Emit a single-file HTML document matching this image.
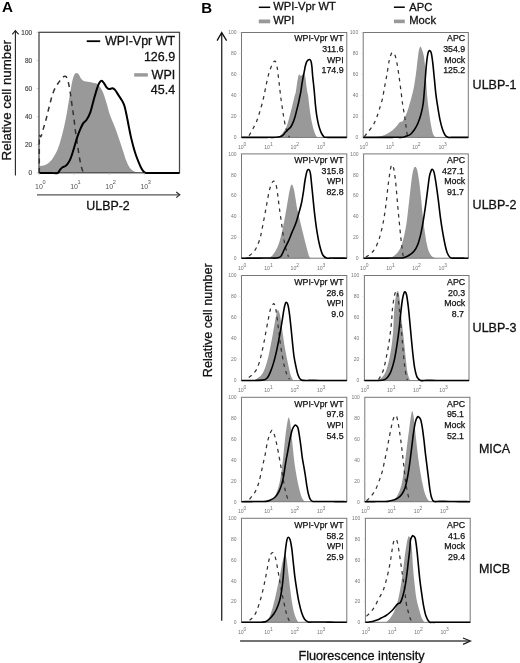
<!DOCTYPE html><html><head><meta charset="utf-8"><style>html,body{margin:0;padding:0;background:#fff;}svg{display:block;}text{font-family:"Liberation Sans", Arial, Helvetica, sans-serif;}</style></head><body>
<svg width="520" height="663" viewBox="0 0 520 663">
<rect width="520" height="663" fill="#fff"/>
<text x="1.90" y="12.40" font-size="15.20" text-anchor="start" font-weight="bold" fill="#000">A</text>
<line x1="15.4" y1="31" x2="15.4" y2="175.5" stroke="#222" stroke-width="1.1"/>
<polyline points="12.3,34.4 15.4,30.6 18.6,34.4" fill="none" stroke="#222" stroke-width="1.1"/>
<text x="0" y="0" font-size="13" fill="#111" stroke="#111" stroke-width="0.3" text-anchor="middle" textLength="120.5" lengthAdjust="spacingAndGlyphs" transform="translate(10.8,100.2) rotate(-90)">Relative cell number</text>
<text x="32.00" y="175.00" font-size="6.40" text-anchor="end" font-weight="normal" fill="#444" stroke="#444" stroke-width="0.15">0</text>
<line x1="36.5" y1="172.80" x2="39" y2="172.80" stroke="#bbb" stroke-width="0.6"/>
<text x="32.00" y="146.90" font-size="6.40" text-anchor="end" font-weight="normal" fill="#444" stroke="#444" stroke-width="0.15">20</text>
<line x1="36.5" y1="144.70" x2="39" y2="144.70" stroke="#bbb" stroke-width="0.6"/>
<text x="32.00" y="118.80" font-size="6.40" text-anchor="end" font-weight="normal" fill="#444" stroke="#444" stroke-width="0.15">40</text>
<line x1="36.5" y1="116.60" x2="39" y2="116.60" stroke="#bbb" stroke-width="0.6"/>
<text x="32.00" y="90.70" font-size="6.40" text-anchor="end" font-weight="normal" fill="#444" stroke="#444" stroke-width="0.15">60</text>
<line x1="36.5" y1="88.50" x2="39" y2="88.50" stroke="#bbb" stroke-width="0.6"/>
<text x="32.00" y="62.60" font-size="6.40" text-anchor="end" font-weight="normal" fill="#444" stroke="#444" stroke-width="0.15">80</text>
<line x1="36.5" y1="60.40" x2="39" y2="60.40" stroke="#bbb" stroke-width="0.6"/>
<text x="32.00" y="34.50" font-size="6.40" text-anchor="end" font-weight="normal" fill="#444" stroke="#444" stroke-width="0.15">100</text>
<line x1="36.5" y1="32.30" x2="39" y2="32.30" stroke="#bbb" stroke-width="0.6"/>
<path d="M39.30,172.80 L39.30,166.00 C40.00,165.92 42.12,165.87 43.50,165.50 C44.88,165.13 46.22,164.77 47.60,163.80 C48.98,162.83 50.42,161.50 51.80,159.70 C53.18,157.90 54.65,155.50 55.90,153.00 C57.15,150.50 58.18,148.02 59.30,144.70 C60.42,141.38 61.55,137.25 62.60,133.10 C63.65,128.95 64.72,124.23 65.60,119.80 C66.48,115.37 67.15,110.93 67.90,106.50 C68.65,102.07 69.38,97.35 70.10,93.20 C70.82,89.05 71.52,84.63 72.20,81.60 C72.88,78.57 73.53,76.43 74.20,75.00 C74.87,73.57 75.50,73.15 76.20,73.00 C76.90,72.85 77.62,73.22 78.40,74.10 C79.18,74.98 80.08,77.18 80.90,78.30 C81.72,79.42 82.35,80.25 83.30,80.80 C84.25,81.35 85.22,81.33 86.60,81.60 C87.98,81.87 90.07,82.12 91.60,82.40 C93.13,82.68 94.68,82.88 95.80,83.30 C96.92,83.72 97.47,84.07 98.30,84.90 C99.13,85.73 99.97,86.92 100.80,88.30 C101.63,89.68 102.33,90.72 103.30,93.20 C104.27,95.68 105.50,99.60 106.60,103.20 C107.70,106.80 108.80,111.48 109.90,114.80 C111.00,118.12 112.10,120.33 113.20,123.10 C114.30,125.87 115.38,128.35 116.50,131.40 C117.62,134.45 118.78,138.07 119.90,141.40 C121.02,144.73 122.17,148.25 123.20,151.40 C124.23,154.55 125.13,157.78 126.10,160.30 C127.07,162.82 128.08,164.93 129.00,166.50 C129.92,168.07 130.47,168.77 131.60,169.70 C132.73,170.63 134.42,171.55 135.80,172.10 C137.18,172.65 139.22,172.85 139.90,173.00 L139.90,172.80 Z" fill="#999999" stroke="none"/>
<rect x="39.00" y="32.30" width="140.50" height="140.50" fill="none" stroke="#444" stroke-width="1.25"/>
<path d="M39.3,173 L39.30,135.00 C39.58,135.23 40.30,137.55 41.00,136.40 C41.70,135.25 42.67,130.87 43.50,128.10 C44.33,125.33 45.25,122.57 46.00,119.80 C46.75,117.03 47.32,114.27 48.00,111.50 C48.68,108.73 49.33,106.10 50.10,103.20 C50.87,100.30 51.63,96.87 52.60,94.10 C53.57,91.33 54.78,88.68 55.90,86.60 C57.02,84.52 58.18,83.12 59.30,81.60 C60.42,80.08 61.63,78.38 62.60,77.50 C63.57,76.62 64.33,76.17 65.10,76.30 C65.87,76.43 66.57,76.87 67.20,78.30 C67.83,79.73 68.33,82.13 68.90,84.90 C69.47,87.67 70.05,91.30 70.60,94.90 C71.15,98.50 71.65,102.62 72.20,106.50 C72.75,110.38 73.35,114.05 73.90,118.20 C74.45,122.35 74.90,126.98 75.50,131.40 C76.10,135.82 76.83,140.27 77.50,144.70 C78.17,149.13 78.80,154.12 79.50,158.00 C80.20,161.88 81.03,165.53 81.70,168.00 C82.37,170.47 83.20,172.00 83.50,172.80" fill="none" stroke="#333" stroke-width="1.5" stroke-dasharray="5,4.5"/>
<path d="M39.30,173.00 C40.32,173.00 43.37,173.00 45.40,173.00 C47.43,173.00 49.47,173.00 51.50,173.00 C53.53,173.00 56.17,173.55 57.60,173.00 C59.03,172.45 59.27,170.67 60.10,169.70 C60.93,168.73 61.77,167.77 62.60,167.20 C63.43,166.63 64.27,166.87 65.10,166.30 C65.93,165.73 66.77,164.90 67.60,163.80 C68.43,162.70 69.28,161.50 70.10,159.70 C70.92,157.90 71.68,155.50 72.50,153.00 C73.32,150.50 74.17,147.47 75.00,144.70 C75.83,141.93 76.67,138.88 77.50,136.40 C78.33,133.92 79.03,132.02 80.00,129.80 C80.97,127.58 82.20,124.77 83.30,123.10 C84.40,121.43 85.48,121.45 86.60,119.80 C87.72,118.15 88.88,116.25 90.00,113.20 C91.12,110.15 92.20,105.38 93.30,101.50 C94.40,97.62 95.63,92.93 96.60,89.90 C97.57,86.87 98.27,84.82 99.10,83.30 C99.93,81.78 100.77,80.80 101.60,80.80 C102.43,80.80 103.27,82.20 104.10,83.30 C104.93,84.40 105.77,86.43 106.60,87.40 C107.43,88.37 108.13,88.95 109.10,89.10 C110.07,89.25 111.42,88.17 112.40,88.30 C113.38,88.43 114.02,88.80 115.00,89.90 C115.98,91.00 117.20,93.23 118.30,94.90 C119.40,96.57 120.63,98.23 121.60,99.90 C122.57,101.57 123.40,102.97 124.10,104.90 C124.80,106.83 125.23,109.02 125.80,111.50 C126.37,113.98 126.95,117.03 127.50,119.80 C128.05,122.57 128.55,125.33 129.10,128.10 C129.65,130.87 130.10,133.35 130.80,136.40 C131.50,139.45 132.47,143.35 133.30,146.40 C134.13,149.45 134.97,152.22 135.80,154.70 C136.63,157.18 137.40,159.08 138.30,161.30 C139.20,163.52 140.23,166.20 141.20,168.00 C142.17,169.80 143.20,171.27 144.10,172.10 C145.00,172.93 145.27,172.85 146.60,173.00 C147.93,173.15 150.26,173.00 152.08,173.00 C153.91,173.00 155.74,173.00 157.57,173.00 C159.39,173.00 161.22,173.00 163.05,173.00 C164.88,173.00 166.71,173.00 168.53,173.00 C170.36,173.00 172.19,173.00 174.02,173.00 C175.84,173.00 178.59,173.00 179.50,173.00" fill="none" stroke="#000" stroke-width="2" stroke-linejoin="round"/>
<text x="35.10" y="188.60" font-size="7.00" text-anchor="start" font-weight="normal" fill="#555">10</text>
<text x="42.40" y="184.00" font-size="5.60" text-anchor="start" font-weight="normal" fill="#555">0</text>
<line x1="39.00" y1="172.8" x2="39.00" y2="175" stroke="#bbb" stroke-width="0.6"/>
<text x="70.22" y="188.60" font-size="7.00" text-anchor="start" font-weight="normal" fill="#555">10</text>
<text x="77.53" y="184.00" font-size="5.60" text-anchor="start" font-weight="normal" fill="#555">1</text>
<line x1="74.12" y1="172.8" x2="74.12" y2="175" stroke="#bbb" stroke-width="0.6"/>
<text x="105.35" y="188.60" font-size="7.00" text-anchor="start" font-weight="normal" fill="#555">10</text>
<text x="112.65" y="184.00" font-size="5.60" text-anchor="start" font-weight="normal" fill="#555">2</text>
<line x1="109.25" y1="172.8" x2="109.25" y2="175" stroke="#bbb" stroke-width="0.6"/>
<text x="140.47" y="188.60" font-size="7.00" text-anchor="start" font-weight="normal" fill="#555">10</text>
<text x="147.78" y="184.00" font-size="5.60" text-anchor="start" font-weight="normal" fill="#555">3</text>
<line x1="144.38" y1="172.8" x2="144.38" y2="175" stroke="#bbb" stroke-width="0.6"/>
<line x1="37" y1="194.8" x2="179.3" y2="194.8" stroke="#555" stroke-width="1.3"/>
<polyline points="176.2,192.0 179.8,194.8 176.2,197.6" fill="none" stroke="#333" stroke-width="1.2"/>
<text x="108.00" y="209.80" font-size="12.40" text-anchor="middle" font-weight="normal" fill="#111" stroke="#111" stroke-width="0.3">ULBP-2</text>
<line x1="86.7" y1="41.2" x2="100.2" y2="41.2" stroke="#000" stroke-width="1.8"/>
<text x="175.20" y="45.40" font-size="12.50" text-anchor="end" font-weight="normal" fill="#111" stroke="#111" stroke-width="0.3">WPI-Vpr WT</text>
<text x="175.20" y="61.20" font-size="12.50" text-anchor="end" font-weight="normal" fill="#111" stroke="#111" stroke-width="0.3">126.9</text>
<rect x="134.2" y="73.2" width="13.6" height="3.4" fill="#999999"/>
<text x="175.20" y="78.90" font-size="12.50" text-anchor="end" font-weight="normal" fill="#111" stroke="#111" stroke-width="0.3">WPI</text>
<text x="175.20" y="94.00" font-size="12.50" text-anchor="end" font-weight="normal" fill="#111" stroke="#111" stroke-width="0.3">45.4</text>
<text x="201.20" y="12.50" font-size="15.00" text-anchor="start" font-weight="bold" fill="#000">B</text>
<line x1="258.8" y1="7.3" x2="270.2" y2="7.3" stroke="#000" stroke-width="1.5"/>
<text x="273.20" y="10.40" font-size="11.20" text-anchor="start" font-weight="normal" fill="#111" stroke="#111" stroke-width="0.3">WPI-Vpr WT</text>
<rect x="258.8" y="19.5" width="11.4" height="3.8" fill="#999999"/>
<text x="273.20" y="24.20" font-size="11.20" text-anchor="start" font-weight="normal" fill="#111" stroke="#111" stroke-width="0.3">WPI</text>
<line x1="393.9" y1="7.2" x2="404.8" y2="7.2" stroke="#000" stroke-width="1.5"/>
<text x="409.30" y="10.60" font-size="11.20" text-anchor="start" font-weight="normal" fill="#111" stroke="#111" stroke-width="0.3">APC</text>
<rect x="393.9" y="19.6" width="10.9" height="3.6" fill="#999999"/>
<text x="409.30" y="24.20" font-size="11.20" text-anchor="start" font-weight="normal" fill="#111" stroke="#111" stroke-width="0.3">Mock</text>
<line x1="221.7" y1="33" x2="221.7" y2="620.7" stroke="#333" stroke-width="1.4"/>
<polyline points="217.1,40.6 221.7,32.6 226.6,40.6" fill="none" stroke="#111" stroke-width="1.3"/>
<text x="0" y="0" font-size="13" fill="#111" stroke="#111" stroke-width="0.3" text-anchor="middle" textLength="114" lengthAdjust="spacingAndGlyphs" transform="translate(212.3,320.2) rotate(-90)">Relative cell number</text>
<line x1="240.1" y1="641" x2="470" y2="641" stroke="#444" stroke-width="1.5"/>
<polyline points="463,638 470.4,641 463,644.4" fill="none" stroke="#222" stroke-width="1.3"/>
<text x="361.50" y="659.50" font-size="12.70" text-anchor="middle" font-weight="normal" fill="#111" stroke="#111" stroke-width="0.3">Fluorescence intensity</text>
<path d="M276.00,137.40 L276.00,137.30 C276.63,137.07 278.52,136.87 279.80,135.90 C281.08,134.93 282.58,133.03 283.70,131.50 C284.82,129.97 285.63,128.78 286.50,126.70 C287.37,124.62 288.17,121.57 288.90,119.00 C289.63,116.43 290.25,113.85 290.90,111.30 C291.55,108.75 292.18,106.25 292.80,103.70 C293.42,101.15 294.10,97.97 294.60,96.00 C295.10,94.03 295.42,93.87 295.80,91.90 C296.18,89.93 296.52,86.63 296.90,84.20 C297.28,81.77 297.75,78.97 298.10,77.30 C298.45,75.63 298.67,74.52 299.00,74.20 C299.33,73.88 299.73,75.13 300.10,75.40 C300.47,75.67 300.83,75.87 301.20,75.80 C301.57,75.73 301.90,75.43 302.30,75.00 C302.70,74.57 303.22,73.28 303.60,73.20 C303.98,73.12 304.28,73.70 304.60,74.50 C304.92,75.30 305.23,76.38 305.50,78.00 C305.77,79.62 305.90,81.88 306.20,84.20 C306.50,86.52 306.97,89.93 307.30,91.90 C307.63,93.87 307.90,93.88 308.20,96.00 C308.50,98.12 308.73,101.57 309.10,104.60 C309.47,107.63 309.92,111.15 310.40,114.20 C310.88,117.25 311.42,120.17 312.00,122.90 C312.58,125.63 313.18,128.37 313.90,130.60 C314.62,132.83 315.65,135.18 316.30,136.30 C316.95,137.42 317.55,137.13 317.80,137.30 L317.80,137.40 Z" fill="#999999" stroke="none"/>
<rect x="241.50" y="32.50" width="105.30" height="104.90" fill="none" stroke="#777" stroke-width="1"/>
<text x="236.50" y="139.20" font-size="5.00" text-anchor="end" font-weight="normal" fill="#777">0</text>
<line x1="239.50" y1="137.40" x2="241.50" y2="137.40" stroke="#ccc" stroke-width="0.5"/>
<text x="236.50" y="118.22" font-size="5.00" text-anchor="end" font-weight="normal" fill="#777">20</text>
<line x1="239.50" y1="116.42" x2="241.50" y2="116.42" stroke="#ccc" stroke-width="0.5"/>
<text x="236.50" y="97.24" font-size="5.00" text-anchor="end" font-weight="normal" fill="#777">40</text>
<line x1="239.50" y1="95.44" x2="241.50" y2="95.44" stroke="#ccc" stroke-width="0.5"/>
<text x="236.50" y="76.26" font-size="5.00" text-anchor="end" font-weight="normal" fill="#777">60</text>
<line x1="239.50" y1="74.46" x2="241.50" y2="74.46" stroke="#ccc" stroke-width="0.5"/>
<text x="236.50" y="55.28" font-size="5.00" text-anchor="end" font-weight="normal" fill="#777">80</text>
<line x1="239.50" y1="53.48" x2="241.50" y2="53.48" stroke="#ccc" stroke-width="0.5"/>
<text x="236.50" y="34.30" font-size="5.00" text-anchor="end" font-weight="normal" fill="#777">100</text>
<line x1="239.50" y1="32.50" x2="241.50" y2="32.50" stroke="#ccc" stroke-width="0.5"/>
<text x="237.90" y="148.80" font-size="5.20" text-anchor="start" font-weight="normal" fill="#777">10</text>
<text x="243.60" y="145.80" font-size="5.00" text-anchor="start" font-weight="normal" fill="#777">0</text>
<text x="264.22" y="148.80" font-size="5.20" text-anchor="start" font-weight="normal" fill="#777">10</text>
<text x="269.93" y="145.80" font-size="5.00" text-anchor="start" font-weight="normal" fill="#777">1</text>
<text x="290.55" y="148.80" font-size="5.20" text-anchor="start" font-weight="normal" fill="#777">10</text>
<text x="296.25" y="145.80" font-size="5.00" text-anchor="start" font-weight="normal" fill="#777">2</text>
<text x="316.88" y="148.80" font-size="5.20" text-anchor="start" font-weight="normal" fill="#777">10</text>
<text x="322.58" y="145.80" font-size="5.00" text-anchor="start" font-weight="normal" fill="#777">3</text>
<path d="M249.00,135.80 C249.63,134.67 251.53,131.40 252.80,129.00 C254.07,126.60 255.47,124.17 256.60,121.40 C257.73,118.63 258.60,115.67 259.60,112.40 C260.60,109.13 261.72,105.32 262.60,101.80 C263.48,98.28 264.15,94.82 264.90,91.30 C265.65,87.78 266.35,83.97 267.10,80.70 C267.85,77.43 268.52,74.47 269.40,71.70 C270.28,68.93 271.47,65.87 272.40,64.10 C273.33,62.33 274.23,60.72 275.00,61.10 C275.77,61.48 276.42,63.63 277.00,66.40 C277.58,69.17 278.03,73.93 278.50,77.70 C278.97,81.47 279.38,85.45 279.80,89.00 C280.22,92.55 280.57,95.75 281.00,99.00 C281.43,102.25 281.97,105.58 282.40,108.50 C282.83,111.42 283.12,113.67 283.60,116.50 C284.08,119.33 284.70,122.83 285.30,125.50 C285.90,128.17 286.52,130.55 287.20,132.50 C287.88,134.45 289.03,136.42 289.40,137.20" fill="none" stroke="#333" stroke-width="1.25" stroke-dasharray="3.6,4.2"/>
<path d="M241.50,137.40 C242.43,137.40 245.22,137.39 247.08,137.38 C248.94,137.38 250.81,137.37 252.67,137.37 C254.53,137.36 256.39,137.36 258.25,137.35 C260.11,137.34 261.97,137.34 263.83,137.33 C265.69,137.33 267.56,137.32 269.42,137.32 C271.28,137.31 273.27,137.39 275.00,137.30 C276.73,137.21 278.52,137.12 279.80,136.80 C281.08,136.48 281.73,136.20 282.70,135.40 C283.67,134.60 284.63,133.05 285.60,132.00 C286.57,130.95 287.62,129.98 288.50,129.10 C289.38,128.22 290.10,127.90 290.90,126.70 C291.70,125.50 292.58,123.65 293.30,121.90 C294.02,120.15 294.60,118.28 295.20,116.20 C295.80,114.12 296.33,111.65 296.90,109.40 C297.47,107.15 298.12,104.85 298.60,102.70 C299.08,100.55 299.43,98.30 299.80,96.50 C300.17,94.70 300.45,93.95 300.80,91.90 C301.15,89.85 301.52,86.63 301.90,84.20 C302.28,81.77 302.72,79.35 303.10,77.30 C303.48,75.25 303.82,73.82 304.20,71.90 C304.58,69.98 304.95,67.55 305.40,65.80 C305.85,64.05 306.23,62.45 306.90,61.40 C307.57,60.35 308.72,59.53 309.40,59.50 C310.08,59.47 310.58,60.03 311.00,61.20 C311.42,62.37 311.65,64.33 311.90,66.50 C312.15,68.67 312.27,71.63 312.50,74.20 C312.73,76.77 313.03,79.33 313.30,81.90 C313.57,84.47 313.85,87.00 314.10,89.60 C314.35,92.20 314.58,95.00 314.80,97.50 C315.02,100.00 315.12,101.82 315.40,104.60 C315.68,107.38 316.05,111.15 316.50,114.20 C316.95,117.25 317.57,120.48 318.10,122.90 C318.63,125.32 319.12,126.93 319.70,128.70 C320.28,130.47 320.88,132.15 321.60,133.50 C322.32,134.85 323.27,136.17 324.00,136.80 C324.73,137.43 324.80,137.21 326.00,137.30 C327.20,137.39 329.47,137.32 331.20,137.33 C332.93,137.33 334.67,137.34 336.40,137.35 C338.13,137.36 339.87,137.37 341.60,137.38 C343.33,137.38 345.93,137.40 346.80,137.40" fill="none" stroke="#000" stroke-width="1.6" stroke-linejoin="round"/>
<text x="343.60" y="41.30" font-size="8.80" text-anchor="end" font-weight="normal" fill="#111" stroke="#111" stroke-width="0.25">WPI-Vpr WT</text>
<text x="343.60" y="52.00" font-size="8.80" text-anchor="end" font-weight="normal" fill="#111" stroke="#111" stroke-width="0.25">311.6</text>
<text x="343.60" y="62.70" font-size="8.80" text-anchor="end" font-weight="normal" fill="#111" stroke="#111" stroke-width="0.25">WPI</text>
<text x="343.60" y="73.40" font-size="8.80" text-anchor="end" font-weight="normal" fill="#111" stroke="#111" stroke-width="0.25">174.9</text>
<path d="M372.60,137.40 L372.60,137.30 C373.85,137.17 377.85,137.00 380.10,136.50 C382.35,136.00 384.08,135.30 386.10,134.30 C388.12,133.30 390.43,131.88 392.20,130.50 C393.97,129.12 395.45,127.38 396.70,126.00 C397.95,124.62 398.73,123.00 399.70,122.20 C400.67,121.40 401.48,122.37 402.50,121.20 C403.52,120.03 404.73,117.67 405.80,115.20 C406.87,112.73 407.88,109.63 408.90,106.40 C409.92,103.17 411.00,99.37 411.90,95.80 C412.80,92.23 413.52,89.52 414.30,85.00 C415.08,80.48 415.88,74.18 416.60,68.70 C417.32,63.22 417.97,55.78 418.60,52.10 C419.23,48.42 419.78,46.85 420.40,46.60 C421.02,46.35 421.72,48.93 422.30,50.60 C422.88,52.27 423.38,53.33 423.90,56.60 C424.42,59.87 424.98,65.43 425.40,70.20 C425.82,74.97 426.03,80.18 426.40,85.20 C426.77,90.22 427.15,95.77 427.60,100.30 C428.05,104.83 428.55,108.37 429.10,112.40 C429.65,116.43 430.27,120.98 430.90,124.50 C431.53,128.02 432.18,131.37 432.90,133.50 C433.62,135.63 434.82,136.67 435.20,137.30 L435.20,137.40 Z" fill="#999999" stroke="none"/>
<rect x="363.20" y="32.50" width="105.10" height="104.90" fill="none" stroke="#777" stroke-width="1"/>
<text x="358.20" y="139.20" font-size="5.00" text-anchor="end" font-weight="normal" fill="#777">0</text>
<line x1="361.20" y1="137.40" x2="363.20" y2="137.40" stroke="#ccc" stroke-width="0.5"/>
<text x="358.20" y="118.22" font-size="5.00" text-anchor="end" font-weight="normal" fill="#777">20</text>
<line x1="361.20" y1="116.42" x2="363.20" y2="116.42" stroke="#ccc" stroke-width="0.5"/>
<text x="358.20" y="97.24" font-size="5.00" text-anchor="end" font-weight="normal" fill="#777">40</text>
<line x1="361.20" y1="95.44" x2="363.20" y2="95.44" stroke="#ccc" stroke-width="0.5"/>
<text x="358.20" y="76.26" font-size="5.00" text-anchor="end" font-weight="normal" fill="#777">60</text>
<line x1="361.20" y1="74.46" x2="363.20" y2="74.46" stroke="#ccc" stroke-width="0.5"/>
<text x="358.20" y="55.28" font-size="5.00" text-anchor="end" font-weight="normal" fill="#777">80</text>
<line x1="361.20" y1="53.48" x2="363.20" y2="53.48" stroke="#ccc" stroke-width="0.5"/>
<text x="358.20" y="34.30" font-size="5.00" text-anchor="end" font-weight="normal" fill="#777">100</text>
<line x1="361.20" y1="32.50" x2="363.20" y2="32.50" stroke="#ccc" stroke-width="0.5"/>
<text x="359.60" y="148.80" font-size="5.20" text-anchor="start" font-weight="normal" fill="#777">10</text>
<text x="365.30" y="145.80" font-size="5.00" text-anchor="start" font-weight="normal" fill="#777">0</text>
<text x="385.88" y="148.80" font-size="5.20" text-anchor="start" font-weight="normal" fill="#777">10</text>
<text x="391.58" y="145.80" font-size="5.00" text-anchor="start" font-weight="normal" fill="#777">1</text>
<text x="412.15" y="148.80" font-size="5.20" text-anchor="start" font-weight="normal" fill="#777">10</text>
<text x="417.85" y="145.80" font-size="5.00" text-anchor="start" font-weight="normal" fill="#777">2</text>
<text x="438.42" y="148.80" font-size="5.20" text-anchor="start" font-weight="normal" fill="#777">10</text>
<text x="444.12" y="145.80" font-size="5.00" text-anchor="start" font-weight="normal" fill="#777">3</text>
<path d="M364.30,136.50 C364.92,135.75 366.62,133.75 368.00,132.00 C369.38,130.25 371.22,128.27 372.60,126.00 C373.98,123.73 375.18,121.17 376.30,118.40 C377.42,115.63 378.28,112.67 379.30,109.40 C380.32,106.13 381.52,102.57 382.40,98.80 C383.28,95.03 383.85,90.82 384.60,86.80 C385.35,82.78 386.15,78.98 386.90,74.70 C387.65,70.42 388.38,64.55 389.10,61.10 C389.82,57.65 390.57,55.42 391.20,54.00 C391.83,52.58 392.23,52.30 392.90,52.60 C393.57,52.90 394.45,53.63 395.20,55.80 C395.95,57.97 396.70,61.70 397.40,65.60 C398.10,69.50 398.77,74.67 399.40,79.20 C400.03,83.73 400.65,88.52 401.20,92.80 C401.75,97.08 402.15,101.13 402.70,104.90 C403.25,108.67 403.95,111.88 404.50,115.40 C405.05,118.92 405.50,122.48 406.00,126.00 C406.50,129.52 407.08,134.62 407.50,136.50 C407.92,138.38 408.33,137.17 408.50,137.30" fill="none" stroke="#333" stroke-width="1.25" stroke-dasharray="3.6,4.2"/>
<path d="M363.20,137.40 C364.15,137.40 366.99,137.39 368.89,137.39 C370.78,137.38 372.68,137.38 374.57,137.37 C376.47,137.37 378.36,137.36 380.26,137.36 C382.15,137.35 384.05,137.35 385.94,137.34 C387.84,137.34 389.73,137.33 391.63,137.33 C393.52,137.32 395.42,137.32 397.31,137.31 C399.21,137.31 401.47,137.52 403.00,137.30 C404.53,137.08 405.28,136.47 406.50,136.00 C407.72,135.53 408.97,135.58 410.30,134.50 C411.63,133.42 413.25,131.33 414.50,129.50 C415.75,127.67 416.73,126.00 417.80,123.50 C418.87,121.00 420.00,117.87 420.90,114.50 C421.80,111.13 422.55,108.18 423.20,103.30 C423.85,98.42 424.28,91.48 424.80,85.20 C425.32,78.92 425.78,70.87 426.30,65.60 C426.82,60.33 427.35,56.10 427.90,53.60 C428.45,51.10 429.02,50.60 429.60,50.60 C430.18,50.60 430.85,51.35 431.40,53.60 C431.95,55.85 432.40,59.83 432.90,64.10 C433.40,68.37 433.90,74.17 434.40,79.20 C434.90,84.23 435.32,89.52 435.90,94.30 C436.48,99.08 437.22,103.63 437.90,107.90 C438.58,112.17 439.25,116.38 440.00,119.90 C440.75,123.42 441.57,126.48 442.40,129.00 C443.23,131.52 444.07,133.62 445.00,135.00 C445.93,136.38 446.65,136.91 448.00,137.30 C449.35,137.69 451.38,137.32 453.07,137.33 C454.77,137.33 456.46,137.34 458.15,137.35 C459.84,137.36 461.53,137.37 463.23,137.38 C464.92,137.38 467.45,137.40 468.30,137.40" fill="none" stroke="#000" stroke-width="1.6" stroke-linejoin="round"/>
<text x="465.20" y="41.30" font-size="8.80" text-anchor="end" font-weight="normal" fill="#111" stroke="#111" stroke-width="0.25">APC</text>
<text x="465.20" y="52.00" font-size="8.80" text-anchor="end" font-weight="normal" fill="#111" stroke="#111" stroke-width="0.25">354.9</text>
<text x="465.20" y="62.70" font-size="8.80" text-anchor="end" font-weight="normal" fill="#111" stroke="#111" stroke-width="0.25">Mock</text>
<text x="465.20" y="73.40" font-size="8.80" text-anchor="end" font-weight="normal" fill="#111" stroke="#111" stroke-width="0.25">125.2</text>
<text x="494.50" y="89.00" font-size="12.50" text-anchor="middle" font-weight="normal" fill="#111" stroke="#111" stroke-width="0.3">ULBP-1</text>
<path d="M269.40,258.20 L269.40,258.10 C270.15,257.33 272.38,255.77 273.90,253.50 C275.42,251.23 277.12,248.27 278.50,244.50 C279.88,240.73 281.08,235.68 282.20,230.90 C283.32,226.12 284.18,221.33 285.20,215.80 C286.22,210.27 287.45,202.40 288.30,197.70 C289.15,193.00 289.68,189.78 290.30,187.60 C290.92,185.42 291.37,184.17 292.00,184.60 C292.63,185.03 293.50,187.80 294.10,190.20 C294.70,192.60 295.10,195.98 295.60,199.00 C296.10,202.02 296.33,204.50 297.10,208.30 C297.87,212.10 299.18,217.53 300.20,221.80 C301.22,226.07 302.20,229.87 303.20,233.90 C304.20,237.93 305.20,242.23 306.20,246.00 C307.20,249.77 308.40,254.48 309.20,256.50 C310.00,258.52 310.70,257.83 311.00,258.10 L311.00,258.20 Z" fill="#999999" stroke="none"/>
<rect x="241.50" y="153.90" width="105.30" height="104.30" fill="none" stroke="#777" stroke-width="1"/>
<text x="236.50" y="260.00" font-size="5.00" text-anchor="end" font-weight="normal" fill="#777">0</text>
<line x1="239.50" y1="258.20" x2="241.50" y2="258.20" stroke="#ccc" stroke-width="0.5"/>
<text x="236.50" y="239.14" font-size="5.00" text-anchor="end" font-weight="normal" fill="#777">20</text>
<line x1="239.50" y1="237.34" x2="241.50" y2="237.34" stroke="#ccc" stroke-width="0.5"/>
<text x="236.50" y="218.28" font-size="5.00" text-anchor="end" font-weight="normal" fill="#777">40</text>
<line x1="239.50" y1="216.48" x2="241.50" y2="216.48" stroke="#ccc" stroke-width="0.5"/>
<text x="236.50" y="197.42" font-size="5.00" text-anchor="end" font-weight="normal" fill="#777">60</text>
<line x1="239.50" y1="195.62" x2="241.50" y2="195.62" stroke="#ccc" stroke-width="0.5"/>
<text x="236.50" y="176.56" font-size="5.00" text-anchor="end" font-weight="normal" fill="#777">80</text>
<line x1="239.50" y1="174.76" x2="241.50" y2="174.76" stroke="#ccc" stroke-width="0.5"/>
<text x="236.50" y="155.70" font-size="5.00" text-anchor="end" font-weight="normal" fill="#777">100</text>
<line x1="239.50" y1="153.90" x2="241.50" y2="153.90" stroke="#ccc" stroke-width="0.5"/>
<text x="237.90" y="269.60" font-size="5.20" text-anchor="start" font-weight="normal" fill="#777">10</text>
<text x="243.60" y="266.60" font-size="5.00" text-anchor="start" font-weight="normal" fill="#777">0</text>
<text x="264.22" y="269.60" font-size="5.20" text-anchor="start" font-weight="normal" fill="#777">10</text>
<text x="269.93" y="266.60" font-size="5.00" text-anchor="start" font-weight="normal" fill="#777">1</text>
<text x="290.55" y="269.60" font-size="5.20" text-anchor="start" font-weight="normal" fill="#777">10</text>
<text x="296.25" y="266.60" font-size="5.00" text-anchor="start" font-weight="normal" fill="#777">2</text>
<text x="316.88" y="269.60" font-size="5.20" text-anchor="start" font-weight="normal" fill="#777">10</text>
<text x="322.58" y="266.60" font-size="5.00" text-anchor="start" font-weight="normal" fill="#777">3</text>
<path d="M249.00,255.80 C249.77,255.17 252.22,253.63 253.60,252.00 C254.98,250.37 256.17,248.52 257.30,246.00 C258.43,243.48 259.52,240.17 260.40,236.90 C261.28,233.63 261.85,230.17 262.60,226.40 C263.35,222.63 264.15,218.33 264.90,214.30 C265.65,210.27 266.35,206.22 267.10,202.20 C267.85,198.18 268.63,193.33 269.40,190.20 C270.17,187.07 270.98,184.92 271.70,183.40 C272.42,181.88 273.00,180.98 273.70,181.10 C274.40,181.22 275.23,181.83 275.90,184.10 C276.57,186.37 277.13,190.80 277.70,194.70 C278.27,198.60 278.68,202.90 279.30,207.50 C279.92,212.10 280.63,216.98 281.40,222.30 C282.17,227.62 283.05,234.62 283.90,239.40 C284.75,244.18 285.73,248.10 286.50,251.00 C287.27,253.90 288.17,255.83 288.50,256.80" fill="none" stroke="#333" stroke-width="1.25" stroke-dasharray="3.6,4.2"/>
<path d="M241.50,258.20 C242.46,258.19 245.36,258.18 247.28,258.17 C249.21,258.16 251.14,258.14 253.07,258.13 C254.99,258.12 256.92,258.11 258.85,258.10 C260.78,258.09 262.71,258.08 264.63,258.07 C266.56,258.06 268.49,258.04 270.42,258.03 C272.34,258.02 274.49,258.26 276.20,258.00 C277.91,257.74 279.32,258.00 280.70,256.50 C282.08,255.00 283.23,251.52 284.50,249.00 C285.77,246.48 287.05,244.17 288.30,241.40 C289.55,238.63 290.75,235.42 292.00,232.40 C293.25,229.38 294.63,226.62 295.80,223.30 C296.97,219.98 298.05,215.88 299.00,212.50 C299.95,209.12 300.77,206.42 301.50,203.00 C302.23,199.58 302.82,195.75 303.40,192.00 C303.98,188.25 304.40,183.95 305.00,180.50 C305.60,177.05 306.35,173.12 307.00,171.30 C307.65,169.48 308.33,169.25 308.90,169.60 C309.47,169.95 309.85,169.97 310.40,173.40 C310.95,176.83 311.52,183.63 312.20,190.20 C312.88,196.77 313.68,205.77 314.50,212.80 C315.32,219.83 316.22,226.87 317.10,232.40 C317.98,237.93 318.85,242.23 319.80,246.00 C320.75,249.77 321.67,253.00 322.80,255.00 C323.93,257.00 325.12,257.49 326.60,258.00 C328.08,258.51 329.97,258.03 331.65,258.05 C333.33,258.07 335.02,258.08 336.70,258.10 C338.38,258.12 340.07,258.13 341.75,258.15 C343.43,258.17 345.96,258.19 346.80,258.20" fill="none" stroke="#000" stroke-width="1.6" stroke-linejoin="round"/>
<text x="343.60" y="163.00" font-size="8.80" text-anchor="end" font-weight="normal" fill="#111" stroke="#111" stroke-width="0.25">WPI-Vpr WT</text>
<text x="343.60" y="173.70" font-size="8.80" text-anchor="end" font-weight="normal" fill="#111" stroke="#111" stroke-width="0.25">315.8</text>
<text x="343.60" y="184.40" font-size="8.80" text-anchor="end" font-weight="normal" fill="#111" stroke="#111" stroke-width="0.25">WPI</text>
<text x="343.60" y="195.10" font-size="8.80" text-anchor="end" font-weight="normal" fill="#111" stroke="#111" stroke-width="0.25">82.8</text>
<path d="M390.70,258.20 L390.70,258.00 C391.70,257.25 394.95,255.50 396.70,253.50 C398.45,251.50 399.95,249.02 401.20,246.00 C402.45,242.98 403.32,239.18 404.20,235.40 C405.08,231.62 405.82,227.82 406.50,223.30 C407.18,218.78 407.70,213.43 408.30,208.30 C408.90,203.17 409.48,197.80 410.10,192.50 C410.72,187.20 411.42,180.42 412.00,176.50 C412.58,172.58 413.05,170.63 413.60,169.00 C414.15,167.37 414.68,166.47 415.30,166.70 C415.92,166.93 416.63,167.75 417.30,170.40 C417.97,173.05 418.63,177.55 419.30,182.60 C419.97,187.65 420.67,194.67 421.30,200.70 C421.93,206.73 422.50,213.52 423.10,218.80 C423.70,224.08 424.27,228.12 424.90,232.40 C425.53,236.68 426.20,241.23 426.90,244.50 C427.60,247.77 428.23,250.00 429.10,252.00 C429.97,254.00 431.08,255.50 432.10,256.50 C433.12,257.50 434.68,257.75 435.20,258.00 L435.20,258.20 Z" fill="#999999" stroke="none"/>
<rect x="363.60" y="153.90" width="104.70" height="104.30" fill="none" stroke="#777" stroke-width="1"/>
<text x="358.60" y="260.00" font-size="5.00" text-anchor="end" font-weight="normal" fill="#777">0</text>
<line x1="361.60" y1="258.20" x2="363.60" y2="258.20" stroke="#ccc" stroke-width="0.5"/>
<text x="358.60" y="239.14" font-size="5.00" text-anchor="end" font-weight="normal" fill="#777">20</text>
<line x1="361.60" y1="237.34" x2="363.60" y2="237.34" stroke="#ccc" stroke-width="0.5"/>
<text x="358.60" y="218.28" font-size="5.00" text-anchor="end" font-weight="normal" fill="#777">40</text>
<line x1="361.60" y1="216.48" x2="363.60" y2="216.48" stroke="#ccc" stroke-width="0.5"/>
<text x="358.60" y="197.42" font-size="5.00" text-anchor="end" font-weight="normal" fill="#777">60</text>
<line x1="361.60" y1="195.62" x2="363.60" y2="195.62" stroke="#ccc" stroke-width="0.5"/>
<text x="358.60" y="176.56" font-size="5.00" text-anchor="end" font-weight="normal" fill="#777">80</text>
<line x1="361.60" y1="174.76" x2="363.60" y2="174.76" stroke="#ccc" stroke-width="0.5"/>
<text x="358.60" y="155.70" font-size="5.00" text-anchor="end" font-weight="normal" fill="#777">100</text>
<line x1="361.60" y1="153.90" x2="363.60" y2="153.90" stroke="#ccc" stroke-width="0.5"/>
<text x="360.00" y="269.60" font-size="5.20" text-anchor="start" font-weight="normal" fill="#777">10</text>
<text x="365.70" y="266.60" font-size="5.00" text-anchor="start" font-weight="normal" fill="#777">0</text>
<text x="386.18" y="269.60" font-size="5.20" text-anchor="start" font-weight="normal" fill="#777">10</text>
<text x="391.88" y="266.60" font-size="5.00" text-anchor="start" font-weight="normal" fill="#777">1</text>
<text x="412.35" y="269.60" font-size="5.20" text-anchor="start" font-weight="normal" fill="#777">10</text>
<text x="418.05" y="266.60" font-size="5.00" text-anchor="start" font-weight="normal" fill="#777">2</text>
<text x="438.52" y="269.60" font-size="5.20" text-anchor="start" font-weight="normal" fill="#777">10</text>
<text x="444.23" y="266.60" font-size="5.00" text-anchor="start" font-weight="normal" fill="#777">3</text>
<path d="M365.80,257.30 C366.67,256.67 369.37,255.13 371.00,253.50 C372.63,251.87 374.22,250.02 375.60,247.50 C376.98,244.98 378.17,241.92 379.30,238.40 C380.43,234.88 381.52,230.42 382.40,226.40 C383.28,222.38 383.93,218.58 384.60,214.30 C385.27,210.02 385.85,205.23 386.40,200.70 C386.95,196.17 387.38,191.37 387.90,187.10 C388.42,182.83 388.98,178.52 389.50,175.10 C390.02,171.68 390.55,168.25 391.00,166.60 C391.45,164.95 391.75,164.88 392.20,165.20 C392.65,165.52 393.20,166.35 393.70,168.50 C394.20,170.65 394.75,174.48 395.20,178.10 C395.65,181.72 396.03,186.18 396.40,190.20 C396.77,194.22 397.05,198.18 397.40,202.20 C397.75,206.22 398.12,210.27 398.50,214.30 C398.88,218.33 399.30,222.38 399.70,226.40 C400.10,230.42 400.52,234.88 400.90,238.40 C401.28,241.92 401.65,244.73 402.00,247.50 C402.35,250.27 402.67,253.28 403.00,255.00 C403.33,256.72 403.83,257.33 404.00,257.80" fill="none" stroke="#333" stroke-width="1.25" stroke-dasharray="3.6,4.2"/>
<path d="M363.60,258.20 C364.51,258.20 367.26,258.18 369.09,258.17 C370.91,258.16 372.74,258.15 374.57,258.14 C376.40,258.13 378.23,258.12 380.06,258.11 C381.89,258.10 383.71,258.10 385.54,258.09 C387.37,258.08 389.20,258.07 391.03,258.06 C392.86,258.05 394.69,258.04 396.51,258.03 C398.34,258.02 400.59,258.12 402.00,258.00 C403.41,257.88 403.75,257.80 405.00,257.30 C406.25,256.80 408.00,256.00 409.50,255.00 C411.00,254.00 412.62,253.05 414.00,251.30 C415.38,249.55 416.67,247.40 417.80,244.50 C418.93,241.60 419.92,237.68 420.80,233.90 C421.68,230.12 422.33,226.32 423.10,221.80 C423.87,217.28 424.65,212.07 425.40,206.80 C426.15,201.53 426.93,195.23 427.60,190.20 C428.27,185.17 428.80,179.87 429.40,176.60 C430.00,173.33 430.68,171.80 431.20,170.60 C431.72,169.40 432.03,169.15 432.50,169.40 C432.97,169.65 433.43,169.90 434.00,172.10 C434.57,174.30 435.20,178.08 435.90,182.60 C436.60,187.12 437.45,193.42 438.20,199.20 C438.95,204.98 439.65,211.77 440.40,217.30 C441.15,222.83 441.93,227.87 442.70,232.40 C443.47,236.93 444.25,241.10 445.00,244.50 C445.75,247.90 446.33,250.63 447.20,252.80 C448.07,254.97 449.23,256.62 450.20,257.50 C451.17,258.38 451.68,257.99 453.00,258.10 C454.32,258.21 456.40,258.12 458.10,258.13 C459.80,258.14 461.50,258.16 463.20,258.17 C464.90,258.18 467.45,258.19 468.30,258.20" fill="none" stroke="#000" stroke-width="1.6" stroke-linejoin="round"/>
<text x="465.20" y="163.00" font-size="8.80" text-anchor="end" font-weight="normal" fill="#111" stroke="#111" stroke-width="0.25">APC</text>
<text x="464.00" y="173.70" font-size="8.80" text-anchor="end" font-weight="normal" fill="#111" stroke="#111" stroke-width="0.25">427.1</text>
<text x="465.20" y="184.40" font-size="8.80" text-anchor="end" font-weight="normal" fill="#111" stroke="#111" stroke-width="0.25">Mock</text>
<text x="464.00" y="195.10" font-size="8.80" text-anchor="end" font-weight="normal" fill="#111" stroke="#111" stroke-width="0.25">91.7</text>
<text x="494.50" y="208.80" font-size="12.50" text-anchor="middle" font-weight="normal" fill="#111" stroke="#111" stroke-width="0.3">ULBP-2</text>
<path d="M254.00,380.60 L254.00,380.30 C254.77,379.83 257.22,378.60 258.60,377.50 C259.98,376.40 261.17,375.47 262.30,373.70 C263.43,371.93 264.38,369.78 265.40,366.90 C266.42,364.02 267.53,359.92 268.40,356.40 C269.27,352.88 269.85,349.58 270.60,345.80 C271.35,342.02 272.13,337.97 272.90,333.70 C273.67,329.43 274.53,323.78 275.20,320.20 C275.87,316.62 276.40,313.87 276.90,312.20 C277.40,310.53 277.70,309.80 278.20,310.20 C278.70,310.60 279.35,312.18 279.90,314.60 C280.45,317.02 280.98,321.27 281.50,324.70 C282.02,328.13 282.50,331.68 283.00,335.20 C283.50,338.72 283.92,342.27 284.50,345.80 C285.08,349.33 285.80,352.88 286.50,356.40 C287.20,359.92 287.95,363.63 288.70,366.90 C289.45,370.17 290.23,373.77 291.00,376.00 C291.77,378.23 292.92,379.58 293.30,380.30 L293.30,380.60 Z" fill="#999999" stroke="none"/>
<rect x="241.50" y="275.50" width="105.30" height="105.10" fill="none" stroke="#777" stroke-width="1"/>
<text x="236.50" y="382.40" font-size="5.00" text-anchor="end" font-weight="normal" fill="#777">0</text>
<line x1="239.50" y1="380.60" x2="241.50" y2="380.60" stroke="#ccc" stroke-width="0.5"/>
<text x="236.50" y="361.38" font-size="5.00" text-anchor="end" font-weight="normal" fill="#777">20</text>
<line x1="239.50" y1="359.58" x2="241.50" y2="359.58" stroke="#ccc" stroke-width="0.5"/>
<text x="236.50" y="340.36" font-size="5.00" text-anchor="end" font-weight="normal" fill="#777">40</text>
<line x1="239.50" y1="338.56" x2="241.50" y2="338.56" stroke="#ccc" stroke-width="0.5"/>
<text x="236.50" y="319.34" font-size="5.00" text-anchor="end" font-weight="normal" fill="#777">60</text>
<line x1="239.50" y1="317.54" x2="241.50" y2="317.54" stroke="#ccc" stroke-width="0.5"/>
<text x="236.50" y="298.32" font-size="5.00" text-anchor="end" font-weight="normal" fill="#777">80</text>
<line x1="239.50" y1="296.52" x2="241.50" y2="296.52" stroke="#ccc" stroke-width="0.5"/>
<text x="236.50" y="277.30" font-size="5.00" text-anchor="end" font-weight="normal" fill="#777">100</text>
<line x1="239.50" y1="275.50" x2="241.50" y2="275.50" stroke="#ccc" stroke-width="0.5"/>
<text x="237.90" y="392.00" font-size="5.20" text-anchor="start" font-weight="normal" fill="#777">10</text>
<text x="243.60" y="389.00" font-size="5.00" text-anchor="start" font-weight="normal" fill="#777">0</text>
<text x="264.22" y="392.00" font-size="5.20" text-anchor="start" font-weight="normal" fill="#777">10</text>
<text x="269.93" y="389.00" font-size="5.00" text-anchor="start" font-weight="normal" fill="#777">1</text>
<text x="290.55" y="392.00" font-size="5.20" text-anchor="start" font-weight="normal" fill="#777">10</text>
<text x="296.25" y="389.00" font-size="5.00" text-anchor="start" font-weight="normal" fill="#777">2</text>
<text x="316.88" y="392.00" font-size="5.20" text-anchor="start" font-weight="normal" fill="#777">10</text>
<text x="322.58" y="389.00" font-size="5.00" text-anchor="start" font-weight="normal" fill="#777">3</text>
<path d="M248.80,377.50 C249.42,377.00 251.25,375.77 252.50,374.50 C253.75,373.23 255.17,371.92 256.30,369.90 C257.43,367.88 258.42,365.17 259.30,362.40 C260.18,359.63 260.83,356.57 261.60,353.30 C262.37,350.03 263.15,346.57 263.90,342.80 C264.65,339.03 265.35,334.72 266.10,330.70 C266.85,326.68 267.65,322.38 268.40,318.70 C269.15,315.02 269.85,311.00 270.60,308.60 C271.35,306.20 272.27,305.02 272.90,304.30 C273.53,303.58 273.90,303.42 274.40,304.30 C274.90,305.18 275.40,306.95 275.90,309.60 C276.40,312.25 276.90,316.43 277.40,320.20 C277.90,323.97 278.40,328.18 278.90,332.20 C279.40,336.22 279.82,340.27 280.40,344.30 C280.98,348.33 281.72,352.63 282.40,356.40 C283.08,360.17 283.75,363.88 284.50,366.90 C285.25,369.92 286.07,372.45 286.90,374.50 C287.73,376.55 289.07,378.42 289.50,379.20" fill="none" stroke="#333" stroke-width="1.25" stroke-dasharray="3.6,4.2"/>
<path d="M241.50,380.50 C242.37,380.49 244.97,380.48 246.70,380.47 C248.43,380.46 250.17,380.44 251.90,380.43 C253.63,380.42 254.98,380.52 257.10,380.40 C259.22,380.28 262.85,380.18 264.60,379.70 C266.35,379.22 266.60,378.88 267.60,377.50 C268.60,376.12 269.58,373.92 270.60,371.40 C271.62,368.88 272.68,365.92 273.70,362.40 C274.72,358.88 275.70,354.83 276.70,350.30 C277.70,345.77 278.82,339.97 279.70,335.20 C280.58,330.43 281.30,325.97 282.00,321.70 C282.70,317.43 283.35,312.58 283.90,309.60 C284.45,306.62 284.87,305.00 285.30,303.80 C285.73,302.60 286.05,302.18 286.50,302.40 C286.95,302.62 287.50,303.15 288.00,305.10 C288.50,307.05 289.00,310.33 289.50,314.10 C290.00,317.87 290.50,322.92 291.00,327.70 C291.50,332.48 292.00,338.02 292.50,342.80 C293.00,347.58 293.42,352.38 294.00,356.40 C294.58,360.42 295.32,363.77 296.00,366.90 C296.68,370.03 297.30,373.07 298.10,375.20 C298.90,377.33 299.85,378.83 300.80,379.70 C301.75,380.57 302.40,380.28 303.80,380.40 C305.20,380.52 307.38,380.41 309.18,380.41 C310.97,380.42 312.76,380.42 314.55,380.42 C316.34,380.43 318.13,380.43 319.93,380.44 C321.72,380.44 323.51,380.45 325.30,380.45 C327.09,380.45 328.88,380.46 330.68,380.46 C332.47,380.47 334.26,380.47 336.05,380.48 C337.84,380.48 339.63,380.48 341.43,380.49 C343.22,380.49 345.90,380.50 346.80,380.50" fill="none" stroke="#000" stroke-width="1.6" stroke-linejoin="round"/>
<text x="343.60" y="284.80" font-size="8.80" text-anchor="end" font-weight="normal" fill="#111" stroke="#111" stroke-width="0.25">WPI-Vpr WT</text>
<text x="343.60" y="295.50" font-size="8.80" text-anchor="end" font-weight="normal" fill="#111" stroke="#111" stroke-width="0.25">28.6</text>
<text x="343.60" y="306.20" font-size="8.80" text-anchor="end" font-weight="normal" fill="#111" stroke="#111" stroke-width="0.25">WPI</text>
<text x="343.60" y="316.90" font-size="8.80" text-anchor="end" font-weight="normal" fill="#111" stroke="#111" stroke-width="0.25">9.0</text>
<path d="M377.10,380.60 L377.10,380.40 C377.77,380.03 379.68,379.62 381.10,378.20 C382.52,376.78 384.30,374.80 385.60,371.90 C386.90,369.00 387.92,365.03 388.90,360.80 C389.88,356.57 390.78,351.52 391.50,346.50 C392.22,341.48 392.77,336.50 393.20,330.70 C393.63,324.90 393.68,317.25 394.10,311.70 C394.52,306.15 395.20,300.75 395.70,297.40 C396.20,294.05 396.63,292.50 397.10,291.60 C397.57,290.70 398.05,290.50 398.50,292.00 C398.95,293.50 399.38,296.80 399.80,300.60 C400.22,304.40 400.47,309.52 401.00,314.80 C401.53,320.08 402.38,326.75 403.00,332.30 C403.62,337.85 404.17,343.08 404.70,348.10 C405.23,353.12 405.70,358.18 406.20,362.40 C406.70,366.62 407.08,370.50 407.70,373.40 C408.32,376.30 409.27,378.63 409.90,379.80 C410.53,380.97 411.23,380.30 411.50,380.40 L411.50,380.60 Z" fill="#999999" stroke="none"/>
<rect x="364.40" y="275.50" width="104.60" height="105.10" fill="none" stroke="#777" stroke-width="1"/>
<text x="359.40" y="382.40" font-size="5.00" text-anchor="end" font-weight="normal" fill="#777">0</text>
<line x1="362.40" y1="380.60" x2="364.40" y2="380.60" stroke="#ccc" stroke-width="0.5"/>
<text x="359.40" y="361.38" font-size="5.00" text-anchor="end" font-weight="normal" fill="#777">20</text>
<line x1="362.40" y1="359.58" x2="364.40" y2="359.58" stroke="#ccc" stroke-width="0.5"/>
<text x="359.40" y="340.36" font-size="5.00" text-anchor="end" font-weight="normal" fill="#777">40</text>
<line x1="362.40" y1="338.56" x2="364.40" y2="338.56" stroke="#ccc" stroke-width="0.5"/>
<text x="359.40" y="319.34" font-size="5.00" text-anchor="end" font-weight="normal" fill="#777">60</text>
<line x1="362.40" y1="317.54" x2="364.40" y2="317.54" stroke="#ccc" stroke-width="0.5"/>
<text x="359.40" y="298.32" font-size="5.00" text-anchor="end" font-weight="normal" fill="#777">80</text>
<line x1="362.40" y1="296.52" x2="364.40" y2="296.52" stroke="#ccc" stroke-width="0.5"/>
<text x="359.40" y="277.30" font-size="5.00" text-anchor="end" font-weight="normal" fill="#777">100</text>
<line x1="362.40" y1="275.50" x2="364.40" y2="275.50" stroke="#ccc" stroke-width="0.5"/>
<text x="360.80" y="392.00" font-size="5.20" text-anchor="start" font-weight="normal" fill="#777">10</text>
<text x="366.50" y="389.00" font-size="5.00" text-anchor="start" font-weight="normal" fill="#777">0</text>
<text x="386.95" y="392.00" font-size="5.20" text-anchor="start" font-weight="normal" fill="#777">10</text>
<text x="392.65" y="389.00" font-size="5.00" text-anchor="start" font-weight="normal" fill="#777">1</text>
<text x="413.10" y="392.00" font-size="5.20" text-anchor="start" font-weight="normal" fill="#777">10</text>
<text x="418.80" y="389.00" font-size="5.00" text-anchor="start" font-weight="normal" fill="#777">2</text>
<text x="439.25" y="392.00" font-size="5.20" text-anchor="start" font-weight="normal" fill="#777">10</text>
<text x="444.95" y="389.00" font-size="5.00" text-anchor="start" font-weight="normal" fill="#777">3</text>
<path d="M378.50,379.50 C378.80,379.02 379.50,378.13 380.30,376.60 C381.10,375.07 382.37,373.20 383.30,370.30 C384.23,367.40 385.05,363.17 385.90,359.20 C386.75,355.23 387.68,350.73 388.40,346.50 C389.12,342.27 389.67,338.02 390.20,333.80 C390.73,329.58 391.22,325.42 391.60,321.20 C391.98,316.98 392.08,312.47 392.50,308.50 C392.92,304.53 393.63,300.03 394.10,297.40 C394.57,294.77 394.88,293.75 395.30,292.70 C395.72,291.65 396.20,290.83 396.60,291.10 C397.00,291.37 397.33,292.18 397.70,294.30 C398.07,296.42 398.40,300.12 398.80,303.80 C399.20,307.48 399.67,311.92 400.10,316.40 C400.53,320.88 401.00,326.20 401.40,330.70 C401.80,335.20 402.13,339.18 402.50,343.40 C402.87,347.62 403.22,352.05 403.60,356.00 C403.98,359.95 404.33,363.67 404.80,367.10 C405.27,370.53 405.95,374.45 406.40,376.60 C406.85,378.75 407.32,379.43 407.50,380.00" fill="none" stroke="#333" stroke-width="1.25" stroke-dasharray="3.6,4.2"/>
<path d="M364.40,380.50 C365.39,380.50 368.37,380.50 370.35,380.50 C372.33,380.50 373.98,380.62 376.30,380.50 C378.62,380.38 382.32,380.45 384.30,379.80 C386.28,379.15 387.02,378.18 388.20,376.60 C389.38,375.02 390.35,373.20 391.40,370.30 C392.45,367.40 393.53,363.68 394.50,359.20 C395.47,354.72 396.40,348.68 397.20,343.40 C398.00,338.12 398.68,332.78 399.30,327.50 C399.92,322.22 400.37,316.45 400.90,311.70 C401.43,306.95 401.98,302.12 402.50,299.00 C403.02,295.88 403.55,294.18 404.00,293.00 C404.45,291.82 404.77,291.57 405.20,291.90 C405.63,292.23 406.08,292.50 406.60,295.00 C407.12,297.50 407.75,302.27 408.30,306.90 C408.85,311.53 409.37,317.25 409.90,322.80 C410.43,328.35 410.97,334.67 411.50,340.20 C412.03,345.73 412.55,351.25 413.10,356.00 C413.65,360.75 414.12,365.13 414.80,368.70 C415.48,372.27 416.22,375.45 417.20,377.40 C418.18,379.35 419.22,379.90 420.70,380.40 C422.18,380.90 424.28,380.41 426.07,380.41 C427.86,380.41 429.64,380.42 431.43,380.42 C433.22,380.43 435.01,380.43 436.80,380.43 C438.59,380.44 440.38,380.44 442.17,380.44 C443.96,380.45 445.74,380.45 447.53,380.46 C449.32,380.46 451.11,380.46 452.90,380.47 C454.69,380.47 456.48,380.47 458.27,380.48 C460.06,380.48 461.84,380.49 463.63,380.49 C465.42,380.49 468.11,380.50 469.00,380.50" fill="none" stroke="#000" stroke-width="1.6" stroke-linejoin="round"/>
<text x="465.20" y="284.80" font-size="8.80" text-anchor="end" font-weight="normal" fill="#111" stroke="#111" stroke-width="0.25">APC</text>
<text x="465.20" y="295.50" font-size="8.80" text-anchor="end" font-weight="normal" fill="#111" stroke="#111" stroke-width="0.25">20.3</text>
<text x="465.20" y="306.20" font-size="8.80" text-anchor="end" font-weight="normal" fill="#111" stroke="#111" stroke-width="0.25">Mock</text>
<text x="464.00" y="316.90" font-size="8.80" text-anchor="end" font-weight="normal" fill="#111" stroke="#111" stroke-width="0.25">8.7</text>
<text x="494.50" y="332.00" font-size="12.50" text-anchor="middle" font-weight="normal" fill="#111" stroke="#111" stroke-width="0.3">ULBP-3</text>
<path d="M269.10,501.70 L269.10,501.50 C269.87,501.00 272.45,500.00 273.70,498.50 C274.95,497.00 275.65,495.02 276.60,492.50 C277.55,489.98 278.55,487.17 279.40,483.40 C280.25,479.63 281.00,474.92 281.70,469.90 C282.40,464.88 282.97,459.08 283.60,453.30 C284.23,447.52 284.85,440.48 285.50,435.20 C286.15,429.92 286.97,424.53 287.50,421.60 C288.03,418.67 288.27,417.53 288.70,417.60 C289.13,417.67 289.62,419.07 290.10,422.00 C290.58,424.93 291.10,430.50 291.60,435.20 C292.10,439.90 292.57,445.18 293.10,450.20 C293.63,455.22 294.13,460.52 294.80,465.30 C295.47,470.08 296.33,474.87 297.10,478.90 C297.87,482.93 298.62,486.42 299.40,489.50 C300.18,492.58 300.93,495.45 301.80,497.40 C302.67,499.35 303.90,500.52 304.60,501.20 C305.30,501.88 305.77,501.45 306.00,501.50 L306.00,501.70 Z" fill="#999999" stroke="none"/>
<rect x="241.50" y="397.30" width="105.30" height="104.40" fill="none" stroke="#777" stroke-width="1"/>
<text x="236.50" y="503.50" font-size="5.00" text-anchor="end" font-weight="normal" fill="#777">0</text>
<line x1="239.50" y1="501.70" x2="241.50" y2="501.70" stroke="#ccc" stroke-width="0.5"/>
<text x="236.50" y="482.62" font-size="5.00" text-anchor="end" font-weight="normal" fill="#777">20</text>
<line x1="239.50" y1="480.82" x2="241.50" y2="480.82" stroke="#ccc" stroke-width="0.5"/>
<text x="236.50" y="461.74" font-size="5.00" text-anchor="end" font-weight="normal" fill="#777">40</text>
<line x1="239.50" y1="459.94" x2="241.50" y2="459.94" stroke="#ccc" stroke-width="0.5"/>
<text x="236.50" y="440.86" font-size="5.00" text-anchor="end" font-weight="normal" fill="#777">60</text>
<line x1="239.50" y1="439.06" x2="241.50" y2="439.06" stroke="#ccc" stroke-width="0.5"/>
<text x="236.50" y="419.98" font-size="5.00" text-anchor="end" font-weight="normal" fill="#777">80</text>
<line x1="239.50" y1="418.18" x2="241.50" y2="418.18" stroke="#ccc" stroke-width="0.5"/>
<text x="236.50" y="399.10" font-size="5.00" text-anchor="end" font-weight="normal" fill="#777">100</text>
<line x1="239.50" y1="397.30" x2="241.50" y2="397.30" stroke="#ccc" stroke-width="0.5"/>
<text x="237.90" y="513.10" font-size="5.20" text-anchor="start" font-weight="normal" fill="#777">10</text>
<text x="243.60" y="510.10" font-size="5.00" text-anchor="start" font-weight="normal" fill="#777">0</text>
<text x="264.22" y="513.10" font-size="5.20" text-anchor="start" font-weight="normal" fill="#777">10</text>
<text x="269.93" y="510.10" font-size="5.00" text-anchor="start" font-weight="normal" fill="#777">1</text>
<text x="290.55" y="513.10" font-size="5.20" text-anchor="start" font-weight="normal" fill="#777">10</text>
<text x="296.25" y="510.10" font-size="5.00" text-anchor="start" font-weight="normal" fill="#777">2</text>
<text x="316.88" y="513.10" font-size="5.20" text-anchor="start" font-weight="normal" fill="#777">10</text>
<text x="322.58" y="510.10" font-size="5.00" text-anchor="start" font-weight="normal" fill="#777">3</text>
<path d="M249.50,499.30 C250.00,498.67 251.48,496.88 252.50,495.50 C253.52,494.12 254.58,493.02 255.60,491.00 C256.62,488.98 257.73,486.17 258.60,483.40 C259.47,480.63 260.05,477.67 260.80,474.40 C261.55,471.13 262.33,467.32 263.10,463.80 C263.87,460.28 264.70,456.82 265.40,453.30 C266.10,449.78 266.63,445.72 267.30,442.70 C267.97,439.68 268.72,437.18 269.40,435.20 C270.08,433.22 270.82,431.52 271.40,430.80 C271.98,430.08 272.32,429.92 272.90,430.90 C273.48,431.88 274.27,434.48 274.90,436.70 C275.53,438.92 276.10,441.43 276.70,444.20 C277.30,446.97 277.88,450.03 278.50,453.30 C279.12,456.57 279.82,460.53 280.40,463.80 C280.98,467.07 281.42,469.63 282.00,472.90 C282.58,476.17 283.28,480.13 283.90,483.40 C284.52,486.67 285.02,489.85 285.70,492.50 C286.38,495.15 287.37,497.85 288.00,499.30 C288.63,500.75 289.25,500.88 289.50,501.20" fill="none" stroke="#333" stroke-width="1.25" stroke-dasharray="3.6,4.2"/>
<path d="M241.50,501.70 C242.53,501.69 245.60,501.65 247.65,501.62 C249.70,501.60 251.75,501.57 253.80,501.55 C255.85,501.52 257.90,501.50 259.95,501.47 C262.00,501.45 264.33,501.65 266.10,501.40 C267.88,501.15 269.08,500.73 270.60,500.00 C272.12,499.27 273.82,498.38 275.20,497.00 C276.58,495.62 277.77,493.97 278.90,491.70 C280.03,489.43 281.17,486.28 282.00,483.40 C282.83,480.52 283.28,477.92 283.90,474.40 C284.52,470.88 285.02,466.33 285.70,462.30 C286.38,458.27 287.25,454.22 288.00,450.20 C288.75,446.18 289.45,441.72 290.20,438.20 C290.95,434.68 291.77,431.22 292.50,429.10 C293.23,426.98 293.98,426.10 294.60,425.50 C295.22,424.90 295.65,425.12 296.20,425.50 C296.75,425.88 297.38,426.18 297.90,427.80 C298.42,429.42 298.82,432.22 299.30,435.20 C299.78,438.18 300.30,441.93 300.80,445.70 C301.30,449.47 301.78,454.28 302.30,457.80 C302.82,461.32 303.38,463.78 303.90,466.80 C304.42,469.82 304.90,472.63 305.40,475.90 C305.90,479.17 306.40,483.38 306.90,486.40 C307.40,489.42 307.83,491.85 308.40,494.00 C308.97,496.15 309.55,498.07 310.30,499.30 C311.05,500.53 311.52,501.04 312.90,501.40 C314.27,501.76 316.67,501.43 318.55,501.45 C320.43,501.47 322.32,501.48 324.20,501.50 C326.08,501.52 327.97,501.53 329.85,501.55 C331.73,501.57 333.62,501.58 335.50,501.60 C337.38,501.62 339.27,501.63 341.15,501.65 C343.03,501.67 345.86,501.69 346.80,501.70" fill="none" stroke="#000" stroke-width="1.6" stroke-linejoin="round"/>
<text x="343.60" y="406.60" font-size="8.80" text-anchor="end" font-weight="normal" fill="#111" stroke="#111" stroke-width="0.25">WPI-Vpr WT</text>
<text x="343.60" y="417.30" font-size="8.80" text-anchor="end" font-weight="normal" fill="#111" stroke="#111" stroke-width="0.25">97.8</text>
<text x="343.60" y="428.00" font-size="8.80" text-anchor="end" font-weight="normal" fill="#111" stroke="#111" stroke-width="0.25">WPI</text>
<text x="343.60" y="438.70" font-size="8.80" text-anchor="end" font-weight="normal" fill="#111" stroke="#111" stroke-width="0.25">54.5</text>
<path d="M391.00,501.70 L391.00,501.50 C391.27,501.47 391.68,502.05 392.60,501.30 C393.52,500.55 395.35,498.72 396.50,497.00 C397.65,495.28 398.62,493.27 399.50,491.00 C400.38,488.73 401.13,486.42 401.80,483.40 C402.47,480.38 402.93,476.67 403.50,472.90 C404.07,469.13 404.62,465.33 405.20,460.80 C405.78,456.27 406.37,450.73 407.00,445.70 C407.63,440.67 408.37,435.37 409.00,430.60 C409.63,425.83 410.27,420.37 410.80,417.10 C411.33,413.83 411.72,411.00 412.20,411.00 C412.68,411.00 413.20,413.83 413.70,417.10 C414.20,420.37 414.68,425.83 415.20,430.60 C415.72,435.37 416.23,440.67 416.80,445.70 C417.37,450.73 417.98,456.27 418.60,460.80 C419.22,465.33 419.80,468.87 420.50,472.90 C421.20,476.93 422.03,481.48 422.80,485.00 C423.57,488.52 424.22,491.50 425.10,494.00 C425.98,496.50 427.20,498.75 428.10,500.00 C429.00,501.25 430.10,501.25 430.50,501.50 L430.50,501.70 Z" fill="#999999" stroke="none"/>
<rect x="364.80" y="397.30" width="105.10" height="104.40" fill="none" stroke="#777" stroke-width="1"/>
<text x="359.80" y="503.50" font-size="5.00" text-anchor="end" font-weight="normal" fill="#777">0</text>
<line x1="362.80" y1="501.70" x2="364.80" y2="501.70" stroke="#ccc" stroke-width="0.5"/>
<text x="359.80" y="482.62" font-size="5.00" text-anchor="end" font-weight="normal" fill="#777">20</text>
<line x1="362.80" y1="480.82" x2="364.80" y2="480.82" stroke="#ccc" stroke-width="0.5"/>
<text x="359.80" y="461.74" font-size="5.00" text-anchor="end" font-weight="normal" fill="#777">40</text>
<line x1="362.80" y1="459.94" x2="364.80" y2="459.94" stroke="#ccc" stroke-width="0.5"/>
<text x="359.80" y="440.86" font-size="5.00" text-anchor="end" font-weight="normal" fill="#777">60</text>
<line x1="362.80" y1="439.06" x2="364.80" y2="439.06" stroke="#ccc" stroke-width="0.5"/>
<text x="359.80" y="419.98" font-size="5.00" text-anchor="end" font-weight="normal" fill="#777">80</text>
<line x1="362.80" y1="418.18" x2="364.80" y2="418.18" stroke="#ccc" stroke-width="0.5"/>
<text x="359.80" y="399.10" font-size="5.00" text-anchor="end" font-weight="normal" fill="#777">100</text>
<line x1="362.80" y1="397.30" x2="364.80" y2="397.30" stroke="#ccc" stroke-width="0.5"/>
<text x="361.20" y="513.10" font-size="5.20" text-anchor="start" font-weight="normal" fill="#777">10</text>
<text x="366.90" y="510.10" font-size="5.00" text-anchor="start" font-weight="normal" fill="#777">0</text>
<text x="387.47" y="513.10" font-size="5.20" text-anchor="start" font-weight="normal" fill="#777">10</text>
<text x="393.18" y="510.10" font-size="5.00" text-anchor="start" font-weight="normal" fill="#777">1</text>
<text x="413.75" y="513.10" font-size="5.20" text-anchor="start" font-weight="normal" fill="#777">10</text>
<text x="419.45" y="510.10" font-size="5.00" text-anchor="start" font-weight="normal" fill="#777">2</text>
<text x="440.02" y="513.10" font-size="5.20" text-anchor="start" font-weight="normal" fill="#777">10</text>
<text x="445.73" y="510.10" font-size="5.00" text-anchor="start" font-weight="normal" fill="#777">3</text>
<path d="M366.50,500.80 C367.25,500.05 369.48,498.18 371.00,496.30 C372.52,494.42 374.22,492.15 375.60,489.50 C376.98,486.85 378.18,483.42 379.30,480.40 C380.42,477.38 381.42,474.67 382.30,471.40 C383.18,468.13 383.83,464.33 384.60,460.80 C385.37,457.27 386.20,453.72 386.90,450.20 C387.60,446.68 388.13,443.22 388.80,439.70 C389.47,436.18 390.22,432.37 390.90,429.10 C391.58,425.83 392.25,422.28 392.90,420.10 C393.55,417.92 394.22,416.70 394.80,416.00 C395.38,415.30 395.88,414.97 396.40,415.90 C396.92,416.83 397.40,419.15 397.90,421.60 C398.40,424.05 398.90,427.33 399.40,430.60 C399.90,433.87 400.40,437.42 400.90,441.20 C401.40,444.98 401.90,449.03 402.40,453.30 C402.90,457.57 403.40,462.28 403.90,466.80 C404.40,471.32 404.85,476.37 405.40,480.40 C405.95,484.43 406.60,487.98 407.20,491.00 C407.80,494.02 408.45,496.80 409.00,498.50 C409.55,500.20 410.25,500.75 410.50,501.20" fill="none" stroke="#333" stroke-width="1.25" stroke-dasharray="3.6,4.2"/>
<path d="M364.80,501.70 C365.75,501.69 368.60,501.65 370.50,501.62 C372.40,501.60 374.30,501.57 376.20,501.55 C378.10,501.52 380.00,501.50 381.90,501.47 C383.80,501.45 385.63,501.65 387.60,501.40 C389.57,501.15 391.93,500.60 393.70,500.00 C395.47,499.40 396.82,498.80 398.20,497.80 C399.58,496.80 400.87,495.63 402.00,494.00 C403.13,492.37 404.13,490.52 405.00,488.00 C405.87,485.48 406.53,482.18 407.20,478.90 C407.87,475.62 408.43,472.07 409.00,468.30 C409.57,464.53 410.08,460.32 410.60,456.30 C411.12,452.28 411.60,448.23 412.10,444.20 C412.60,440.17 413.03,435.87 413.60,432.10 C414.17,428.33 414.88,424.08 415.50,421.60 C416.12,419.12 416.78,418.00 417.30,417.20 C417.82,416.40 418.05,416.40 418.60,416.80 C419.15,417.20 419.98,417.80 420.60,419.60 C421.22,421.40 421.75,424.25 422.30,427.60 C422.85,430.95 423.38,435.42 423.90,439.70 C424.42,443.98 424.90,449.03 425.40,453.30 C425.90,457.57 426.40,461.28 426.90,465.30 C427.40,469.32 427.90,473.37 428.40,477.40 C428.90,481.43 429.40,486.23 429.90,489.50 C430.40,492.77 430.77,495.03 431.40,497.00 C432.03,498.97 432.45,500.57 433.70,501.30 C434.95,502.03 437.15,501.34 438.87,501.36 C440.60,501.38 442.32,501.40 444.04,501.41 C445.77,501.43 447.49,501.45 449.21,501.47 C450.94,501.49 452.66,501.51 454.39,501.53 C456.11,501.55 457.83,501.57 459.56,501.59 C461.28,501.60 463.00,501.62 464.73,501.64 C466.45,501.66 469.04,501.69 469.90,501.70" fill="none" stroke="#000" stroke-width="1.6" stroke-linejoin="round"/>
<text x="465.20" y="406.60" font-size="8.80" text-anchor="end" font-weight="normal" fill="#111" stroke="#111" stroke-width="0.25">APC</text>
<text x="464.00" y="417.30" font-size="8.80" text-anchor="end" font-weight="normal" fill="#111" stroke="#111" stroke-width="0.25">95.1</text>
<text x="465.20" y="428.00" font-size="8.80" text-anchor="end" font-weight="normal" fill="#111" stroke="#111" stroke-width="0.25">Mock</text>
<text x="464.00" y="438.70" font-size="8.80" text-anchor="end" font-weight="normal" fill="#111" stroke="#111" stroke-width="0.25">52.1</text>
<text x="494.50" y="452.80" font-size="12.50" text-anchor="middle" font-weight="normal" fill="#111" stroke="#111" stroke-width="0.3">MICA</text>
<path d="M265.50,622.30 L265.50,622.30 C266.10,621.55 268.00,619.93 269.10,617.80 C270.20,615.67 271.08,612.90 272.10,609.50 C273.12,606.10 274.18,601.68 275.20,597.40 C276.22,593.12 277.25,588.33 278.20,583.80 C279.15,579.27 280.10,574.22 280.90,570.20 C281.70,566.18 282.33,562.32 283.00,559.70 C283.67,557.08 284.30,554.58 284.90,554.50 C285.50,554.42 286.03,556.12 286.60,559.20 C287.17,562.28 287.68,567.87 288.30,573.00 C288.92,578.13 289.63,584.83 290.30,590.00 C290.97,595.17 291.58,599.92 292.30,604.00 C293.02,608.08 293.72,611.62 294.60,614.50 C295.48,617.38 296.78,620.00 297.60,621.30 C298.42,622.60 299.18,622.13 299.50,622.30 L299.50,622.30 Z" fill="#999999" stroke="none"/>
<rect x="241.50" y="518.30" width="105.30" height="104.00" fill="none" stroke="#777" stroke-width="1"/>
<text x="236.50" y="624.10" font-size="5.00" text-anchor="end" font-weight="normal" fill="#777">0</text>
<line x1="239.50" y1="622.30" x2="241.50" y2="622.30" stroke="#ccc" stroke-width="0.5"/>
<text x="236.50" y="603.30" font-size="5.00" text-anchor="end" font-weight="normal" fill="#777">20</text>
<line x1="239.50" y1="601.50" x2="241.50" y2="601.50" stroke="#ccc" stroke-width="0.5"/>
<text x="236.50" y="582.50" font-size="5.00" text-anchor="end" font-weight="normal" fill="#777">40</text>
<line x1="239.50" y1="580.70" x2="241.50" y2="580.70" stroke="#ccc" stroke-width="0.5"/>
<text x="236.50" y="561.70" font-size="5.00" text-anchor="end" font-weight="normal" fill="#777">60</text>
<line x1="239.50" y1="559.90" x2="241.50" y2="559.90" stroke="#ccc" stroke-width="0.5"/>
<text x="236.50" y="540.90" font-size="5.00" text-anchor="end" font-weight="normal" fill="#777">80</text>
<line x1="239.50" y1="539.10" x2="241.50" y2="539.10" stroke="#ccc" stroke-width="0.5"/>
<text x="236.50" y="520.10" font-size="5.00" text-anchor="end" font-weight="normal" fill="#777">100</text>
<line x1="239.50" y1="518.30" x2="241.50" y2="518.30" stroke="#ccc" stroke-width="0.5"/>
<text x="237.90" y="633.70" font-size="5.20" text-anchor="start" font-weight="normal" fill="#777">10</text>
<text x="243.60" y="630.70" font-size="5.00" text-anchor="start" font-weight="normal" fill="#777">0</text>
<text x="264.22" y="633.70" font-size="5.20" text-anchor="start" font-weight="normal" fill="#777">10</text>
<text x="269.93" y="630.70" font-size="5.00" text-anchor="start" font-weight="normal" fill="#777">1</text>
<text x="290.55" y="633.70" font-size="5.20" text-anchor="start" font-weight="normal" fill="#777">10</text>
<text x="296.25" y="630.70" font-size="5.00" text-anchor="start" font-weight="normal" fill="#777">2</text>
<text x="316.88" y="633.70" font-size="5.20" text-anchor="start" font-weight="normal" fill="#777">10</text>
<text x="322.58" y="630.70" font-size="5.00" text-anchor="start" font-weight="normal" fill="#777">3</text>
<path d="M249.50,620.30 C250.13,619.75 252.17,618.43 253.30,617.00 C254.43,615.57 255.30,613.97 256.30,611.70 C257.30,609.43 258.37,606.28 259.30,603.40 C260.23,600.52 261.07,597.67 261.90,594.40 C262.73,591.13 263.55,587.32 264.30,583.80 C265.05,580.28 265.72,576.82 266.40,573.30 C267.08,569.78 267.75,565.68 268.40,562.70 C269.05,559.72 269.68,557.05 270.30,555.40 C270.92,553.75 271.48,553.08 272.10,552.80 C272.72,552.52 273.37,552.55 274.00,553.70 C274.63,554.85 275.25,556.95 275.90,559.70 C276.55,562.45 277.27,566.68 277.90,570.20 C278.53,573.72 279.10,577.27 279.70,580.80 C280.30,584.33 280.87,588.13 281.50,591.40 C282.13,594.67 282.85,597.38 283.50,600.40 C284.15,603.42 284.73,606.73 285.40,609.50 C286.07,612.27 286.82,615.05 287.50,617.00 C288.18,618.95 289.00,620.33 289.50,621.20 C290.00,622.07 290.33,622.03 290.50,622.20" fill="none" stroke="#333" stroke-width="1.25" stroke-dasharray="3.6,4.2"/>
<path d="M241.50,622.30 C242.34,622.30 244.85,622.28 246.53,622.27 C248.20,622.27 249.88,622.26 251.55,622.25 C253.23,622.24 254.90,622.23 256.58,622.23 C258.25,622.22 260.01,622.32 261.60,622.20 C263.19,622.08 264.72,622.12 266.10,621.50 C267.48,620.88 268.63,619.75 269.90,618.50 C271.17,617.25 272.57,615.63 273.70,614.00 C274.83,612.37 275.70,610.97 276.70,608.70 C277.70,606.43 278.90,603.28 279.70,600.40 C280.50,597.52 280.95,594.92 281.50,591.40 C282.05,587.88 282.55,583.83 283.00,579.30 C283.45,574.77 283.80,568.98 284.20,564.20 C284.60,559.42 284.95,554.62 285.40,550.60 C285.85,546.58 286.43,542.32 286.90,540.10 C287.37,537.88 287.67,537.35 288.20,537.30 C288.73,537.25 289.50,537.92 290.10,539.80 C290.70,541.68 291.27,544.78 291.80,548.60 C292.33,552.42 292.80,558.08 293.30,562.70 C293.80,567.32 294.22,571.77 294.80,576.30 C295.38,580.83 296.12,585.63 296.80,589.90 C297.48,594.17 298.10,598.13 298.90,601.90 C299.70,605.67 300.65,609.60 301.60,612.50 C302.55,615.40 303.47,617.73 304.60,619.30 C305.73,620.87 306.85,621.46 308.40,621.90 C309.95,622.34 312.06,621.94 313.89,621.96 C315.71,621.98 317.54,622.00 319.37,622.01 C321.20,622.03 323.03,622.05 324.86,622.07 C326.69,622.09 328.51,622.11 330.34,622.13 C332.17,622.15 334.00,622.17 335.83,622.19 C337.66,622.20 339.49,622.22 341.31,622.24 C343.14,622.26 345.89,622.29 346.80,622.30" fill="none" stroke="#000" stroke-width="1.6" stroke-linejoin="round"/>
<text x="343.60" y="527.80" font-size="8.80" text-anchor="end" font-weight="normal" fill="#111" stroke="#111" stroke-width="0.25">WPI-Vpr WT</text>
<text x="343.60" y="538.50" font-size="8.80" text-anchor="end" font-weight="normal" fill="#111" stroke="#111" stroke-width="0.25">58.2</text>
<text x="343.60" y="549.20" font-size="8.80" text-anchor="end" font-weight="normal" fill="#111" stroke="#111" stroke-width="0.25">WPI</text>
<text x="343.60" y="559.90" font-size="8.80" text-anchor="end" font-weight="normal" fill="#111" stroke="#111" stroke-width="0.25">25.9</text>
<path d="M386.10,622.30 L386.10,622.30 C386.73,621.67 388.63,620.13 389.90,618.50 C391.17,616.87 392.57,614.77 393.70,612.50 C394.83,610.23 395.83,607.67 396.70,604.90 C397.57,602.13 398.20,599.17 398.90,595.90 C399.60,592.63 400.27,589.07 400.90,585.30 C401.53,581.53 402.10,577.82 402.70,573.30 C403.30,568.78 403.87,562.98 404.50,558.20 C405.13,553.42 405.93,547.97 406.50,544.60 C407.07,541.23 407.50,539.38 407.90,538.00 C408.30,536.62 408.47,536.05 408.90,536.30 C409.33,536.55 410.00,537.38 410.50,539.50 C411.00,541.62 411.48,544.42 411.90,549.00 C412.32,553.58 412.55,561.17 413.00,567.00 C413.45,572.83 414.03,578.75 414.60,584.00 C415.17,589.25 415.60,594.08 416.40,598.50 C417.20,602.92 418.47,607.17 419.40,610.50 C420.33,613.83 421.15,616.53 422.00,618.50 C422.85,620.47 424.08,621.67 424.50,622.30 L424.50,622.30 Z" fill="#999999" stroke="none"/>
<rect x="365.40" y="518.30" width="104.80" height="104.00" fill="none" stroke="#777" stroke-width="1"/>
<text x="360.40" y="624.10" font-size="5.00" text-anchor="end" font-weight="normal" fill="#777">0</text>
<line x1="363.40" y1="622.30" x2="365.40" y2="622.30" stroke="#ccc" stroke-width="0.5"/>
<text x="360.40" y="603.30" font-size="5.00" text-anchor="end" font-weight="normal" fill="#777">20</text>
<line x1="363.40" y1="601.50" x2="365.40" y2="601.50" stroke="#ccc" stroke-width="0.5"/>
<text x="360.40" y="582.50" font-size="5.00" text-anchor="end" font-weight="normal" fill="#777">40</text>
<line x1="363.40" y1="580.70" x2="365.40" y2="580.70" stroke="#ccc" stroke-width="0.5"/>
<text x="360.40" y="561.70" font-size="5.00" text-anchor="end" font-weight="normal" fill="#777">60</text>
<line x1="363.40" y1="559.90" x2="365.40" y2="559.90" stroke="#ccc" stroke-width="0.5"/>
<text x="360.40" y="540.90" font-size="5.00" text-anchor="end" font-weight="normal" fill="#777">80</text>
<line x1="363.40" y1="539.10" x2="365.40" y2="539.10" stroke="#ccc" stroke-width="0.5"/>
<text x="360.40" y="520.10" font-size="5.00" text-anchor="end" font-weight="normal" fill="#777">100</text>
<line x1="363.40" y1="518.30" x2="365.40" y2="518.30" stroke="#ccc" stroke-width="0.5"/>
<text x="361.80" y="633.70" font-size="5.20" text-anchor="start" font-weight="normal" fill="#777">10</text>
<text x="367.50" y="630.70" font-size="5.00" text-anchor="start" font-weight="normal" fill="#777">0</text>
<text x="388.00" y="633.70" font-size="5.20" text-anchor="start" font-weight="normal" fill="#777">10</text>
<text x="393.70" y="630.70" font-size="5.00" text-anchor="start" font-weight="normal" fill="#777">1</text>
<text x="414.20" y="633.70" font-size="5.20" text-anchor="start" font-weight="normal" fill="#777">10</text>
<text x="419.90" y="630.70" font-size="5.00" text-anchor="start" font-weight="normal" fill="#777">2</text>
<text x="440.40" y="633.70" font-size="5.20" text-anchor="start" font-weight="normal" fill="#777">10</text>
<text x="446.10" y="630.70" font-size="5.00" text-anchor="start" font-weight="normal" fill="#777">3</text>
<path d="M366.50,616.30 C367.25,615.53 369.62,613.35 371.00,611.70 C372.38,610.05 373.53,608.53 374.80,606.40 C376.07,604.27 377.27,601.40 378.60,598.90 C379.93,596.40 381.62,594.17 382.80,591.40 C383.98,588.63 384.78,585.57 385.70,582.30 C386.62,579.03 387.52,575.32 388.30,571.80 C389.08,568.28 389.78,564.73 390.40,561.20 C391.02,557.67 391.47,553.80 392.00,550.60 C392.53,547.40 393.03,543.90 393.60,542.00 C394.17,540.10 394.80,539.27 395.40,539.20 C396.00,539.13 396.62,539.70 397.20,541.60 C397.78,543.50 398.28,546.83 398.90,550.60 C399.52,554.37 400.23,559.67 400.90,564.20 C401.57,568.73 402.27,573.52 402.90,577.80 C403.53,582.08 404.18,585.88 404.70,589.90 C405.22,593.92 405.45,598.38 406.00,601.90 C406.55,605.42 407.30,608.23 408.00,611.00 C408.70,613.77 409.57,616.75 410.20,618.50 C410.83,620.25 411.42,620.88 411.80,621.50 C412.18,622.12 412.38,622.08 412.50,622.20" fill="none" stroke="#333" stroke-width="1.25" stroke-dasharray="3.6,4.2"/>
<path d="M365.40,622.30 C365.83,622.28 366.82,622.33 368.00,622.20 C369.18,622.07 370.98,621.87 372.50,621.50 C374.02,621.13 375.58,620.62 377.10,620.00 C378.62,619.38 380.10,618.55 381.60,617.80 C383.10,617.05 384.72,616.38 386.10,615.50 C387.48,614.62 388.63,613.63 389.90,612.50 C391.17,611.37 392.57,609.97 393.70,608.70 C394.83,607.43 395.90,605.78 396.70,604.90 C397.50,604.02 397.88,603.80 398.50,603.40 C399.12,603.00 399.75,603.50 400.40,602.50 C401.05,601.50 401.68,599.77 402.40,597.40 C403.12,595.03 404.00,591.82 404.70,588.30 C405.40,584.78 406.02,580.57 406.60,576.30 C407.18,572.03 407.67,567.23 408.20,562.70 C408.73,558.17 409.42,552.87 409.80,549.10 C410.18,545.33 410.08,542.28 410.50,540.10 C410.92,537.92 411.78,536.65 412.30,536.00 C412.82,535.35 413.10,535.73 413.60,536.20 C414.10,536.67 414.77,536.65 415.30,538.80 C415.83,540.95 416.30,544.87 416.80,549.10 C417.30,553.33 417.80,559.17 418.30,564.20 C418.80,569.23 419.25,574.52 419.80,579.30 C420.35,584.08 421.00,588.63 421.60,592.90 C422.20,597.17 422.70,601.13 423.40,604.90 C424.10,608.67 424.85,612.68 425.80,615.50 C426.75,618.32 428.07,620.67 429.10,621.80 C430.13,622.93 430.61,622.22 432.00,622.30 C433.39,622.38 435.64,622.30 437.46,622.30 C439.28,622.30 441.10,622.30 442.91,622.30 C444.73,622.30 446.55,622.30 448.37,622.30 C450.19,622.30 452.01,622.30 453.83,622.30 C455.65,622.30 457.47,622.30 459.29,622.30 C461.10,622.30 462.92,622.30 464.74,622.30 C466.56,622.30 469.29,622.30 470.20,622.30" fill="none" stroke="#000" stroke-width="1.6" stroke-linejoin="round"/>
<text x="465.20" y="527.80" font-size="8.80" text-anchor="end" font-weight="normal" fill="#111" stroke="#111" stroke-width="0.25">APC</text>
<text x="465.20" y="538.50" font-size="8.80" text-anchor="end" font-weight="normal" fill="#111" stroke="#111" stroke-width="0.25">41.6</text>
<text x="465.20" y="549.20" font-size="8.80" text-anchor="end" font-weight="normal" fill="#111" stroke="#111" stroke-width="0.25">Mock</text>
<text x="465.20" y="559.90" font-size="8.80" text-anchor="end" font-weight="normal" fill="#111" stroke="#111" stroke-width="0.25">29.4</text>
<text x="494.50" y="573.40" font-size="12.50" text-anchor="middle" font-weight="normal" fill="#111" stroke="#111" stroke-width="0.3">MICB</text>
</svg></body></html>
